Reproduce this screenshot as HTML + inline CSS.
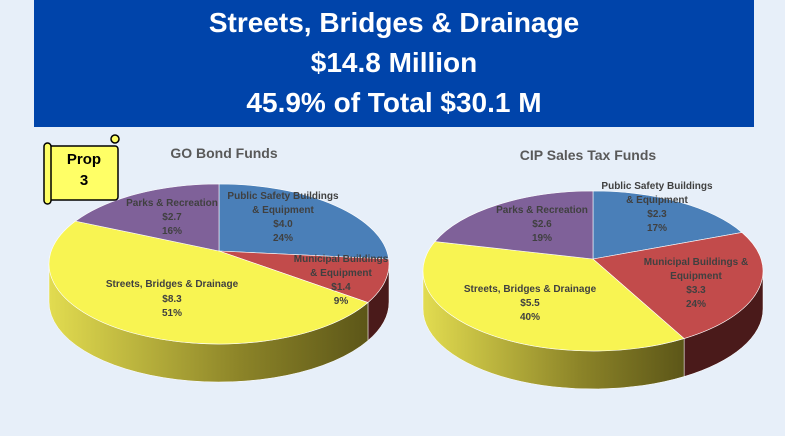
<!DOCTYPE html>
<html><head><meta charset="utf-8">
<style>
html,body{margin:0;padding:0;background:#e7eff9;}
body{width:785px;height:436px;position:relative;overflow:hidden;font-family:"Liberation Sans",sans-serif;}
#hdr{position:absolute;left:34px;top:0;width:720px;height:127px;background:#0044aa;color:#fff;text-align:center;font-weight:bold;font-size:28px;line-height:40px;padding-top:3px;box-sizing:border-box;}
svg{position:absolute;left:0;top:0;}
</style></head><body>
<div id="hdr">Streets, Bridges &amp; Drainage<br>$14.8 Million<br>45.9% of Total $30.1 M</div>
<svg id="s" width="785" height="436" xmlns="http://www.w3.org/2000/svg">
<defs>
<linearGradient id="yg" x1="0" x2="1" y1="0" y2="0">
<stop offset="0" stop-color="#e2dc50"/><stop offset="0.6" stop-color="#8c8428"/><stop offset="1" stop-color="#5c5618"/>
</linearGradient>
</defs>
<g id="g"></g>
<rect x="45" y="146" width="73" height="54" fill="#ffff66" stroke="#000" stroke-width="1.5" rx="3"/>
<rect x="44" y="143" width="7" height="61" rx="3.5" fill="#ffff66" stroke="#000" stroke-width="1.5"/>
<circle cx="115" cy="139" r="4" fill="#ffff66" stroke="#000" stroke-width="1.5"/>
<text x="84" y="164" font-size="15" font-weight="bold" text-anchor="middle" fill="#000">Prop</text>
<text x="84" y="185" font-size="15" font-weight="bold" text-anchor="middle" fill="#000">3</text>
<text x="224" y="158" font-size="14" font-weight="bold" text-anchor="middle" fill="#595959">GO Bond Funds</text>
<text x="588" y="160" font-size="14" font-weight="bold" text-anchor="middle" fill="#595959">CIP Sales Tax Funds</text>
<g font-size="10" font-weight="bold" fill="#404040" text-anchor="middle">
<text x="172" y="206">Parks &amp; Recreation</text><text x="172" y="220">$2.7</text><text x="172" y="234">16%</text>
<text x="283" y="199">Public Safety Buildings</text><text x="283" y="213">&amp; Equipment</text><text x="283" y="227">$4.0</text><text x="283" y="241">24%</text>
<text x="341" y="262">Municipal Buildings</text><text x="341" y="276">&amp;  Equipment</text><text x="341" y="290">$1.4</text><text x="341" y="304">9%</text>
<text x="172" y="287">Streets, Bridges &amp; Drainage</text><text x="172" y="302">$8.3</text><text x="172" y="316">51%</text>
<text x="542" y="213">Parks &amp; Recreation</text><text x="542" y="227">$2.6</text><text x="542" y="241">19%</text>
<text x="657" y="189">Public Safety Buildings</text><text x="657" y="203">&amp; Equipment</text><text x="657" y="217">$2.3</text><text x="657" y="231">17%</text>
<text x="696" y="265">Municipal Buildings &amp;</text><text x="696" y="279">Equipment</text><text x="696" y="293">$3.3</text><text x="696" y="307">24%</text>
<text x="530" y="292">Streets, Bridges &amp; Drainage</text><text x="530" y="306">$5.5</text><text x="530" y="320">40%</text>
</g>
</svg>
<script>
(function(){
var g=document.getElementById('g'),out='';
function P(cx,cy,rx,ry,t){var r=t*Math.PI/180;return [cx+rx*Math.sin(r),cy-ry*Math.cos(r)];}
function pie(cx,cy,rx,ry,d,vals,cols,sides,off){
 var a=0,segs=[];
 for(var i=0;i<vals.length;i++){var b=a+vals[i]*3.6;segs.push([a,b]);a=b;}
 for(var i=0;i<segs.length;i++){
  var s=Math.max(segs[i][0],90),e=Math.min(segs[i][1],270);
  if(e<=s)continue;
  var p1=P(cx,cy,rx,ry,s),p2=P(cx,cy,rx,ry,e);
  var lg=(e-s)>180?1:0;
  out+='<path d="M'+p1[0]+','+p1[1]+' A'+rx+','+ry+' 0 '+lg+' 1 '+p2[0]+','+p2[1]+' L'+p2[0]+','+(p2[1]+d)+' A'+rx+','+ry+' 0 '+lg+' 0 '+p1[0]+','+(p1[1]+d)+' Z" fill="'+sides[i]+'" stroke="#fff" stroke-width="0.5"/>';
 }
 for(var i=0;i<segs.length;i++){
  var p1=P(cx,cy,rx,ry,segs[i][0]),p2=P(cx,cy,rx,ry,segs[i][1]);
  var lg=(segs[i][1]-segs[i][0])>180?1:0;
  out+='<path d="M'+cx+','+(cy-off)+' L'+p1[0]+','+p1[1]+' A'+rx+','+ry+' 0 '+lg+' 1 '+p2[0]+','+p2[1]+' Z" fill="'+cols[i]+'" stroke="#fff" stroke-width="0.6"/>';
 }
}
var cols=['#4a7fb8','#c24b4b','#f8f452','#7f6199'];
pie(219,264,170,80,38,[24,9,51,16],cols,['#2a4a70','#4a1a1a','url(#yg)','#4a3a5c'],13);
pie(593,271,170,80,38,[17,24,40,19],cols,['#2a4a70','#4a1a1a','url(#yg)','#4a3a5c'],12);
g.innerHTML=out;
})();
</script>
</body></html>
